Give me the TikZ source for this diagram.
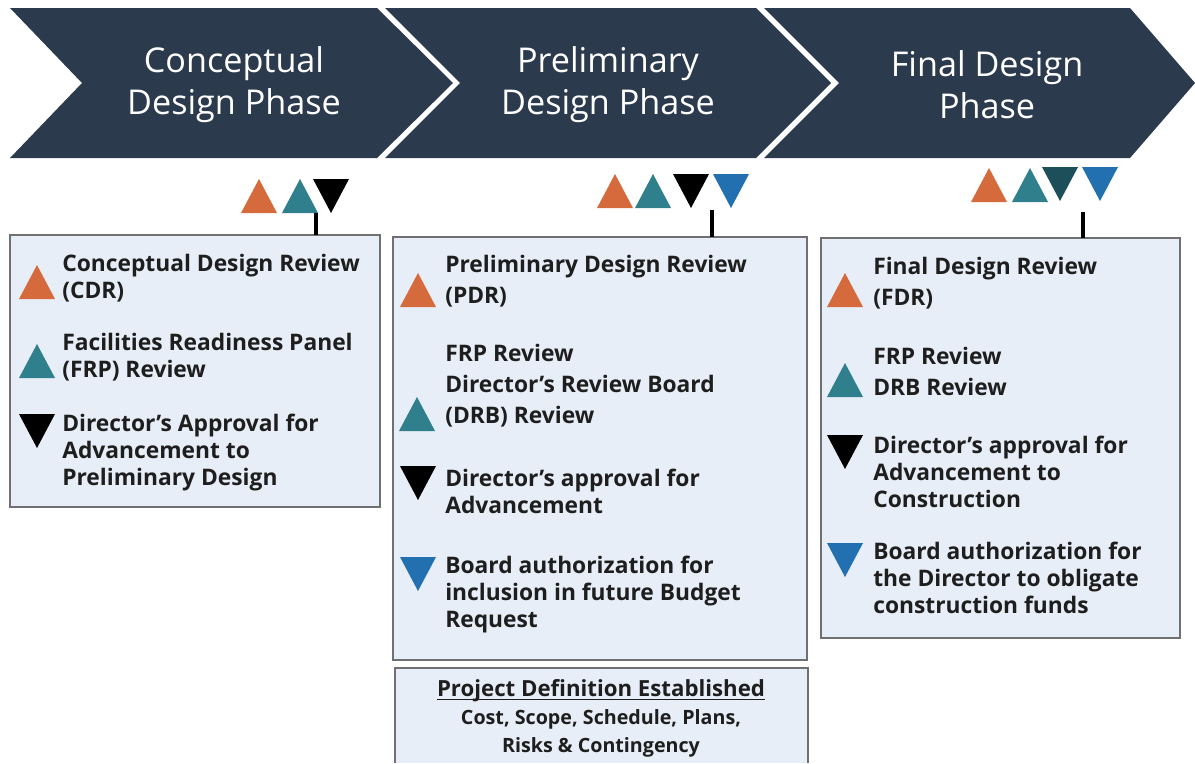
\documentclass[tikz,border=0pt]{standalone}
\usepackage{fontspec}
\setmainfont{Open Sans}
\definecolor{navy}{HTML}{2B3A4D}
\definecolor{panelbg}{HTML}{E7EEF7}
\definecolor{panelline}{HTML}{707070}
\definecolor{mkorange}{HTML}{D56B3C}
\definecolor{mkteal}{HTML}{2F7F8C}
\definecolor{mkdark}{HTML}{1C4F5A}
\definecolor{mkblue}{HTML}{2270B0}
\definecolor{ink}{HTML}{1E1E1E}
\begin{document}
\begin{tikzpicture}[x=0.025cm,y=-0.025cm,
  phase/.style={fill=navy},
  phasetxt/.style={text=white,align=center,font=\fontsize{24.3}{30}\selectfont},
  panel/.style={fill=panelbg,draw=panelline,line width=1.1pt},
  item/.style={anchor=base west,align=left,inner sep=0pt,text=ink,font=\bfseries\fontsize{16.2}{19.2}\selectfont},
  loose/.style={font=\bfseries\fontsize{16.2}{22}\selectfont},
  deftxt/.style={anchor=base,align=center,inner sep=0pt,text=ink,font=\bfseries\fontsize{14}{19.6}\selectfont},
  stem/.style={line width=2.2pt},
  pics/up/.style={code={\fill[#1] (-18,17) -- (18,17) -- (0,-17) -- cycle;}},
  pics/down/.style={code={\fill[#1] (-18,-17) -- (18,-17) -- (0,17) -- cycle;}}]
\useasboundingbox (0,0) rectangle (1195,763);

% phase chevrons
\fill[phase] (10,8) -- (377,8) -- (453,83) -- (377,158) -- (10,158) -- (82,83) -- cycle;
\fill[phase] (385,8) -- (756,8) -- (831,83) -- (756,158) -- (385,158) -- (460,83) -- cycle;
\fill[phase] (764,8) -- (1130,8) -- (1195,83) -- (1130,158) -- (764,158) -- (839,83) -- cycle;
\node[phasetxt] (conc) at (234,85) {Conceptual\\Design Phase};
\node[phasetxt] (prel) at (608,85) {Preliminary\\Design Phase};
\node[phasetxt] (fin) at (987,85) {Final Design\\Phase};

% panels
\draw[panel] (10,235) coordinate (cbox) rectangle (380,507);
\draw[panel] (393,237) coordinate (pbox) rectangle (807,660);
\draw[panel] (821,238) coordinate (fbox) rectangle (1180,638);
\fill[panelbg] (395,668) coordinate (dbox) rectangle (808,763);
\draw[panelline,line width=1.1pt] (395,763) -- (dbox) -- (808,668) -- (808,763);

% milestone markers
\pic at (259,196) {up=mkorange};
\pic at (300,196) {up=mkteal};
\pic at (331,196) {down=black};
\pic at (615,191) {up=mkorange};
\pic at (653,191) {up=mkteal};
\pic at (691,191) {down=black};
\pic at (731,191) {down=mkblue};
\pic at (989,185) {up=mkorange};
\pic at (1030,185) {up=mkteal};
\pic at (1060,184) {down=mkdark};
\pic at (1100,184) {down=mkblue};
\coordinate (ctip) at (316,213);
\coordinate (ptip) at (712,210);
\coordinate (ftip) at (1083,212);
\draw[stem] (ctip) -- (ctip |- cbox);
\draw[stem] (ptip) -- (ptip |- pbox);
\draw[stem] (ftip) -- (ftip |- fbox);

% conceptual (nodes sit on their last baseline)
\pic at (37,282) {up=mkorange};
\node[item] (c1) at (62,298) {Conceptual Design Review\\(CDR)};
\pic at (37,361) {up=mkteal};
\node[item] (c2) at (62,377) {Facilities Readiness Panel\\(FRP) Review};
\pic at (37,431) {down=black};
\node[item] (c3) at (62,485) {Director’s Approval for\\Advancement to\\Preliminary Design};

% preliminary
\pic at (418,290) {up=mkorange};
\node[item,loose] (p1) at (445,303) {Preliminary Design Review\\(PDR)};
\pic at (417,414) {up=mkteal};
\node[item,loose] (p2) at (445,423) {FRP Review\\Director’s Review Board\\(DRB) Review};
\pic at (418,483) {down=black};
\node[item] (p3) at (445,513) {Director’s approval for\\Advancement};
\pic at (418,574) {down=mkblue};
\node[item] (p4) at (445,627) {Board authorization for\\inclusion in future Budget\\Request};

% final
\pic at (845,290) {up=mkorange};
\node[item,loose] (f1) at (873,305) {Final Design Review\\(FDR)};
\pic at (845,380) {up=mkteal};
\node[item,loose] (f2) at (873,395) {FRP Review\\DRB Review};
\pic at (845,452) {down=black};
\node[item] (f3) at (873,507) {Director’s approval for\\Advancement to\\Construction};
\pic at (845,560) {down=mkblue};
\node[item] (f4) at (873,613) {Board authorization for\\the Director to obligate\\construction funds};

% project definition
\node[deftxt] (pdef) at (601,752) {{\fontsize{15.8}{19.6}\selectfont\underbar{Project Definition Established}}\\Cost, Scope, Schedule, Plans,\\Risks \& Contingency};
\end{tikzpicture}
\end{document}
